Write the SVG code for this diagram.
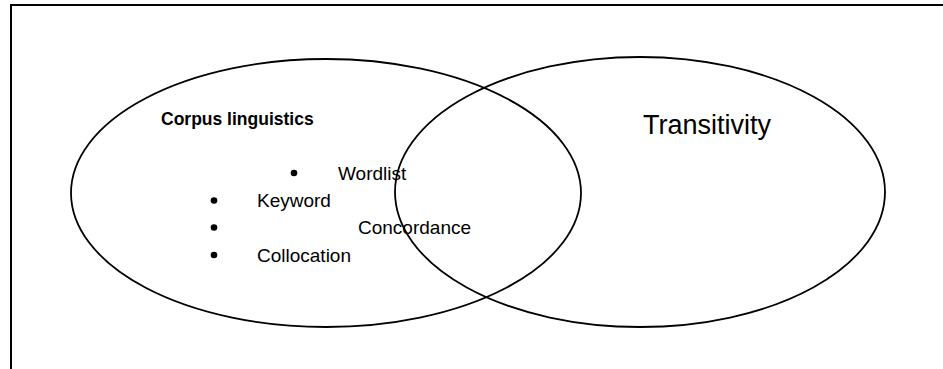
<svg xmlns="http://www.w3.org/2000/svg" width="943" height="369" viewBox="0 0 943 369">
<style>
.sh{fill:none;stroke:#000;stroke-width:1.8}
.t{font-family:"Liberation Sans",Arial,sans-serif;font-size:19px;fill:#000}
.b{font-weight:bold;font-size:17.5px}
.big{font-size:27px}
.dot{fill:#000}
</style>
<rect width="943" height="369" fill="#fff"/>
<g id="frame">
<path d="M943 5 H11 V369" fill="none" stroke="#000" stroke-width="2"/>
</g>
<g id="corpus">
<ellipse class="sh" cx="326" cy="193" rx="255" ry="134"/>
<text class="t b" x="161" y="125">Corpus linguistics</text>
<circle class="dot" cx="294" cy="173" r="3.3"/>
<text class="t" x="338" y="180">Wordlist</text>
<circle class="dot" cx="214" cy="200.5" r="3.3"/>
<text class="t" x="257" y="207">Keyword</text>
<circle class="dot" cx="214" cy="227.5" r="3.3"/>
<text class="t" x="358" y="234">Concordance</text>
<circle class="dot" cx="214" cy="255" r="3.3"/>
<text class="t" x="257" y="262">Collocation</text>
</g>
<g id="transitivity">
<ellipse class="sh" cx="640" cy="192" rx="245" ry="135"/>
<text class="t big" x="643" y="134">Transitivity</text>
</g>
<g id="connectors"></g>
</svg>
